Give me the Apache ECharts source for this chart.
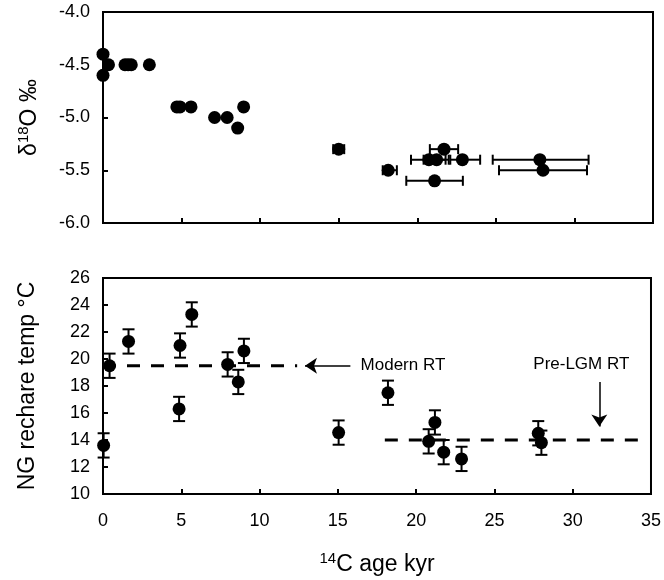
<!DOCTYPE html>
<html>
<head>
<meta charset="utf-8">
<script src="https://cdn.jsdelivr.net/npm/echarts@6/dist/echarts.min.js"></script>
<style>html,body{margin:0;padding:0;background:#fff}#c{width:664px;height:580px}</style>
</head>
<body>
<div id="c"></div>
<script>
// ---- Top panel: delta18O vs 14C age (x error bars) ----
const topAge   = [0, 0, 0.35, 1.4, 1.6, 1.8, 2.95, 4.7, 4.9, 5.6, 7.1, 7.9, 8.57, 8.95, 15.0, 21.7, 20.74, 21.23, 22.87, 27.8, 28.0, 18.15, 21.1];
const topD18O  = [-4.4, -4.6, -4.5, -4.5, -4.5, -4.5, -4.5, -4.9, -4.9, -4.9, -5.0, -5.0, -5.1, -4.9, -5.3, -5.3, -5.4, -5.4, -5.4, -5.4, -5.5, -5.5, -5.6];
const topAgeLo = [null, null, null, null, null, null, null, null, null, null, null, null, null, null, 14.65, 20.8, 19.6, 20.4, 22.1, 24.8, 25.2, 17.8, 19.3];
const topAgeHi = [null, null, null, null, null, null, null, null, null, null, null, null, null, null, 15.35, 22.6, 21.8, 22.0, 24.0, 30.9, 30.8, 18.7, 22.9];

// ---- Bottom panel: NG recharge temperature vs 14C age (y error bars) ----
const botAge  = [0.04, 0.42, 1.63, 4.92, 4.86, 5.67, 7.96, 8.64, 9.0, 15.05, 18.2, 21.2, 20.8, 21.76, 22.9, 27.8, 28.0];
const botTemp = [13.6, 19.5, 21.3, 21.0, 16.3, 23.3, 19.6, 18.3, 20.6, 14.55, 17.5, 15.3, 13.9, 13.1, 12.6, 14.5, 13.8];
const botErr  = [0.9, 0.9, 0.9, 0.9, 0.9, 0.9, 0.9, 0.9, 0.9, 0.9, 0.9, 0.9, 0.9, 0.9, 0.9, 0.9, 0.9];

// reference lines & annotations
const modernRTLine = [[0, 19.5], [12.4, 19.5]];
const preLGMLine   = [[18.0, 14.0], [34.5, 14.0]];
const modernArrow  = [[15.8, 19.5], [12.9, 19.5]];
const preLGMArrow  = [[31.7, 18.3], [31.7, 15.0]];
const annotations  = [[16.45, 19.5, 'Modern RT', 'left'], [30.55, 19.6, 'Pre-LGM RT', 'center']];

// axis ranges / ticks
const xRange = [0, 35, 5];
const topYRange = [-6, -4, 0.5];
const botYRange = [10, 26, 2];

const FONT = "'Liberation Sans', Arial, sans-serif";
const chart = echarts.init(document.getElementById('c'), null, {renderer: 'canvas'});

const topData = topAge.map((x, i) => [x, topD18O[i]]);
const topErrData = [];
topAge.forEach((x, i) => { if (topAgeLo[i] != null) topErrData.push([x, topD18O[i], topAgeLo[i], topAgeHi[i]]); });
const botData = botAge.map((x, i) => [x, botTemp[i]]);
const botErrData = botAge.map((x, i) => [x, botTemp[i], botTemp[i] - botErr[i], botTemp[i] + botErr[i]]);

const axisLine = {lineStyle: {color: '#000', width: 2}};
const axisTick = {inside: true, length: 5, lineStyle: {color: '#000', width: 2}};
const labelStyle = {color: '#000', fontFamily: FONT, fontSize: 18};

function xAxis(gridIndex, showLabel, name) {
  const a = {
    type: 'value', gridIndex, min: xRange[0], max: xRange[1], interval: xRange[2],
    axisLine, axisTick, splitLine: {show: false},
    axisLabel: Object.assign({show: showLabel, margin: 18}, labelStyle)
  };
  if (name) {
    a.name = name; a.nameLocation = 'middle'; a.nameGap = 57;
    a.nameTextStyle = {color: '#000', fontFamily: FONT, fontSize: 23,
      rich: {d: {fontSize: 23, fontFamily: FONT, color: '#000'},
             s: {fontSize: 15, fontFamily: FONT, color: '#000', padding: [0, 0, 12, 0]}}};
  }
  return a;
}

function yAxis(gridIndex, rng, name, gap, fmt) {
  return {
    type: 'value', gridIndex, min: rng[0], max: rng[1], interval: rng[2],
    axisLine, axisTick, splitLine: {show: false},
    axisLabel: Object.assign({margin: 13, formatter: fmt}, labelStyle),
    name, nameLocation: 'middle', nameGap: gap, nameRotate: 90,
    nameTextStyle: {color: '#000', fontFamily: FONT, fontSize: 23,
      rich: {d: {fontSize: 23, fontFamily: FONT, color: '#000'},
             s: {fontSize: 15, fontFamily: FONT, color: '#000', padding: [0, 0, 12, 0]}}}
  };
}

function xErrRender(params, api) {
  const y = api.value(1), lo = api.value(2), hi = api.value(3);
  const p1 = api.coord([lo, y]), p2 = api.coord([hi, y]);
  const h = 5, st = {stroke: '#000', lineWidth: 2};
  return {type: 'group', children: [
    {type: 'line', shape: {x1: p1[0], y1: p1[1], x2: p2[0], y2: p2[1]}, style: st},
    {type: 'line', shape: {x1: p1[0], y1: p1[1] - h, x2: p1[0], y2: p1[1] + h}, style: st},
    {type: 'line', shape: {x1: p2[0], y1: p2[1] - h, x2: p2[0], y2: p2[1] + h}, style: st}
  ]};
}
function yErrRender(params, api) {
  const x = api.value(0), lo = api.value(2), hi = api.value(3);
  const p1 = api.coord([x, lo]), p2 = api.coord([x, hi]);
  const w = 6, st = {stroke: '#000', lineWidth: 2};
  return {type: 'group', children: [
    {type: 'line', shape: {x1: p1[0], y1: p1[1], x2: p2[0], y2: p2[1]}, style: st},
    {type: 'line', shape: {x1: p1[0] - w, y1: p1[1], x2: p1[0] + w, y2: p1[1]}, style: st},
    {type: 'line', shape: {x1: p2[0] - w, y1: p2[1], x2: p2[0] + w, y2: p2[1]}, style: st}
  ]};
}
function textRender(params, api) {
  const p = api.coord([api.value(0), api.value(1)]);
  const d = annotations[params.dataIndex];
  return {type: 'text', x: p[0], y: p[1],
    style: {text: d[2], fill: '#000', font: '17px ' + FONT, align: d[3], verticalAlign: 'middle'}};
}

const arrowMark = (pts) => ({
  silent: true, symbol: ['none', 'arrow'], symbolSize: 12, label: {show: false},
  lineStyle: {type: 'solid', color: '#000', width: 1.5},
  itemStyle: {color: '#000'},
  data: [[{coord: pts[0]}, {coord: pts[1]}]]
});

chart.setOption({
  animation: false,
  backgroundColor: '#fff',
  grid: [
    {left: 103, top: 12, width: 550, height: 211, show: true, borderColor: '#000', borderWidth: 2, backgroundColor: 'transparent'},
    {left: 103, top: 278, width: 550, height: 216, show: true, borderColor: '#000', borderWidth: 2, backgroundColor: 'transparent'}
  ],
  xAxis: [xAxis(0, false), xAxis(1, true, '{s|14}{d|C age kyr}')],
  yAxis: [
    yAxis(0, topYRange, '{d|δ}{s|18}{d|O ‰}', 60, v => v.toFixed(1)),
    yAxis(1, botYRange, 'NG rechare temp °C', 64, v => String(v))
  ],
  series: [
    {type: 'custom', xAxisIndex: 0, yAxisIndex: 0, renderItem: xErrRender, data: topErrData, encode: {x: [0, 2, 3], y: 1}, z: 2, silent: true},
    {type: 'scatter', xAxisIndex: 0, yAxisIndex: 0, data: topData, symbolSize: 13, itemStyle: {color: '#000', opacity: 1}, z: 3},
    {type: 'line', xAxisIndex: 1, yAxisIndex: 1, data: modernRTLine, symbol: 'none', lineStyle: {color: '#000', width: 3, type: [13, 11]}, z: 1,
      markLine: arrowMark(modernArrow)},
    {type: 'line', xAxisIndex: 1, yAxisIndex: 1, data: preLGMLine, symbol: 'none', lineStyle: {color: '#000', width: 3, type: [13, 11]}, z: 1,
      markLine: arrowMark(preLGMArrow)},
    {type: 'custom', xAxisIndex: 1, yAxisIndex: 1, renderItem: yErrRender, data: botErrData, encode: {x: 0, y: [1, 2, 3]}, z: 2, silent: true},
    {type: 'scatter', xAxisIndex: 1, yAxisIndex: 1, data: botData, symbolSize: 13, itemStyle: {color: '#000', opacity: 1}, z: 3},
    {type: 'custom', xAxisIndex: 1, yAxisIndex: 1, renderItem: textRender, data: annotations.map(a => [a[0], a[1]]), z: 4, silent: true}
  ]
});
</script>
</body>
</html>
